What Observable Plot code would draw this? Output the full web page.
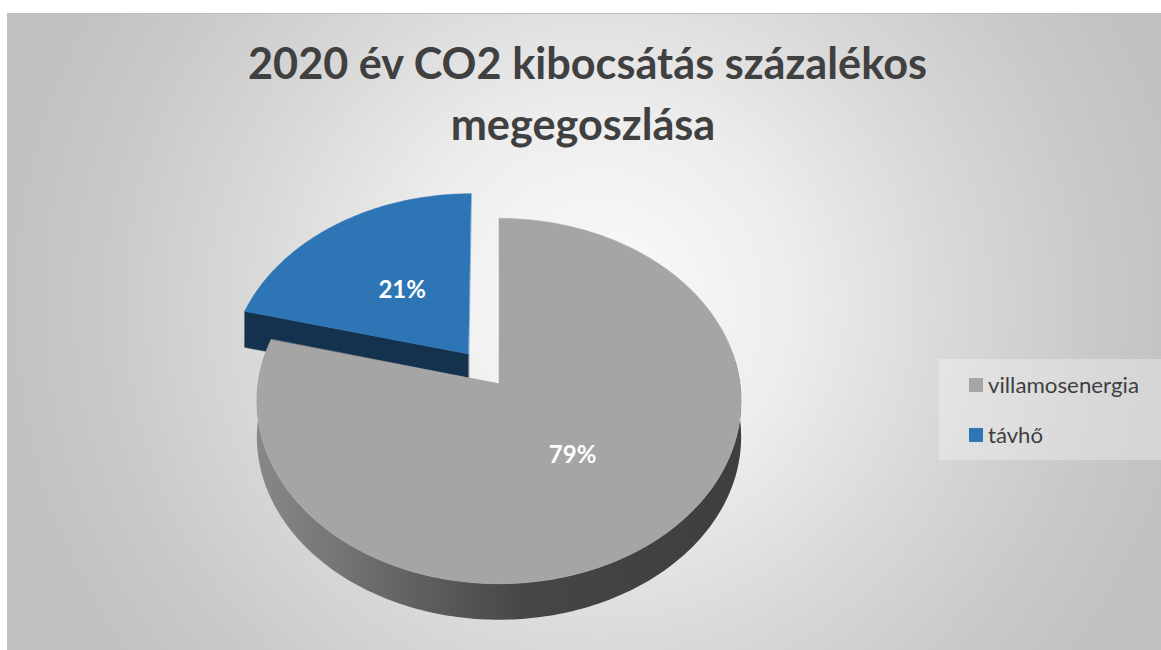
<!DOCTYPE html>
<html>
<head>
<meta charset="utf-8">
<script src="https://cdn.jsdelivr.net/npm/d3@7"></script>
<script src="https://cdn.jsdelivr.net/npm/@observablehq/plot@0.6"></script>
<style>
html, body { margin: 0; padding: 0; background: #ffffff; }
#wrap { position: relative; width: 1161px; height: 650px; overflow: hidden; font-family: Lato, "Open Sans", sans-serif; }
#bg { position: absolute; left: 7px; top: 13px; width: 1154px; height: 637px; box-sizing: border-box;
  border-top: 1px solid #bdbdbd;
  background: radial-gradient(circle 620px at 593px 290px, #fcfcfc 0%, #f5f5f5 14%, #ededed 31%, #d9d9d9 56%, #c9c9c9 80%, #c1c1c1 97%); }
#chart, #overlay { position: absolute; left: 0; top: 0; }
</style>
</head>
<body>
<div id="wrap"><div id="bg"></div></div>
<script>
// ---- data ----
const title = ["2020 év CO2 kibocsátás százalékos", "megegoszlása"];
const categories = ["villamosenergia", "távhő"];
const values = [79, 21];
const colors = ["#a5a5a5", "#2e75b6"];
const explode = [0, 0.21];
const labels = values.map(v => v + "%");

// ---- 3D pie geometry (perspective ellipse) ----
const W = 1161, H = 650;
const cx = 498.5, cy = 383, RX = 241, RY = 181, P = 0.096, T = 36;
function proj(u, v) { const k = 1 / (1 - P * v); return [cx + RX * u * k, cy + RY * v * k]; }
const arcs = d3.pie().sort(null).value(d => d)(values);
const deg = Math.PI / 180;

const parts = arcs.map((a, i) => {
  const mid = (a.startAngle + a.endAngle) / 2;
  const ou = explode[i] * Math.sin(mid), ov = -explode[i] * Math.cos(mid);
  const pt = (th, r = 1) => proj(ou + r * Math.sin(th), ov - r * Math.cos(th));
  const n = Math.max(2, Math.ceil((a.endAngle - a.startAngle) / deg));
  const top = [proj(ou, ov)];
  for (let j = 0; j <= n; j++) top.push(pt(a.startAngle + (a.endAngle - a.startAngle) * j / n));
  let wall = null;
  const w0 = Math.max(a.startAngle, 80 * deg), w1 = Math.min(a.endAngle, 280 * deg);
  if (w1 > w0) {
    const upper = [], m = Math.ceil((w1 - w0) / deg);
    for (let j = 0; j <= m; j++) upper.push(pt(w0 + (w1 - w0) * j / m));
    wall = upper.concat(upper.slice().reverse().map(([x, y]) => [x, y + T]));
  }
  const faces = [];
  const c = proj(ou, ov);
  if (-Math.sin(a.startAngle) > 0.01) {
    const e = pt(a.startAngle);
    faces.push([c, e, [e[0], e[1] + T], [c[0], c[1] + T]]);
  }
  if (Math.sin(a.endAngle) > 0.01) {
    const e = pt(a.endAngle);
    faces.push([c, e, [e[0], e[1] + T], [c[0], c[1] + T]]);
  }
  const label = pt(mid, 0.48);
  return { i, depth: -Math.cos(mid), top, wall, faces, label };
});

const toRows = (pts, key) => pts.map(([x, y]) => ({ x, y, key }));
const marks = [];
parts.slice().sort((a, b) => a.depth - b.depth).forEach(p => {
  const base = colors[p.i];
  const dark = d3.color(base).darker(2.4).formatHex();
  p.faces.forEach((f, k) => marks.push(Plot.line(toRows(f, "f" + k), { x: "x", y: "y", curve: "linear-closed", fill: dark, stroke: dark, strokeWidth: 0.5 })));
  if (p.wall) marks.push(Plot.line(toRows(p.wall, "w"), { x: "x", y: "y", curve: "linear-closed", fill: "url(#wallGrad" + p.i + ")", stroke: "none" }));
  marks.push(Plot.line(toRows(p.top, "t"), { x: "x", y: "y", curve: "linear-closed", fill: base, stroke: base, strokeWidth: 0.5 }));
});
marks.push(Plot.text(parts.map(p => ({ x: p.label[0], y: p.label[1] + 1, t: labels[p.i] })), {
  x: "x", y: "y", text: "t", fill: "white", fontWeight: "bold", fontSize: 24, fontFamily: "Lato, sans-serif"
}));

const chart = Plot.plot({
  width: W, height: H, margin: 0,
  x: { domain: [0, W], range: [0, W], axis: null },
  y: { domain: [0, H], range: [0, H], axis: null },
  style: { background: "transparent", overflow: "visible" },
  marks
});
chart.id = "chart";
const defs = d3.select(chart).insert("defs", ":first-child");
parts.forEach(p => {
  const g = defs.append("linearGradient").attr("id", "wallGrad" + p.i)
    .attr("gradientUnits", "userSpaceOnUse").attr("x1", cx - RX - 2).attr("x2", cx + RX + 2).attr("y1", 0).attr("y2", 0);
  [[0, "#888888"], [0.15, "#777777"], [0.38, "#5a5a5a"], [0.55, "#464646"], [1, "#3e3e3e"]]
    .forEach(([o, c]) => g.append("stop").attr("offset", o).attr("stop-color", c));
});
document.getElementById("wrap").appendChild(chart);

// ---- title & legend (overlay) ----
const ov = d3.select("#wrap").append("svg").attr("id", "overlay").attr("width", W).attr("height", H);
const t1 = ov.append("text").attr("x", 587.5).attr("y", 79).attr("text-anchor", "middle")
  .attr("font-family", "Lato, sans-serif").attr("font-weight", 700).attr("fill", "#404040")
  .attr("font-size", 44).text(title[0]);
const nat1 = t1.node().getComputedTextLength();
if (nat1 > 679) t1.attr("textLength", 679).attr("lengthAdjust", "spacingAndGlyphs");
const t2 = ov.append("text").attr("x", 583).attr("y", 140).attr("text-anchor", "middle")
  .attr("font-family", "Lato, sans-serif").attr("font-weight", 700).attr("fill", "#404040")
  .attr("font-size", 44).text(title[1]);
const nat2 = t2.node().getComputedTextLength();
t2.attr("textLength", nat2 * Math.min(1, 679 / nat1)).attr("lengthAdjust", "spacingAndGlyphs");

ov.append("rect").attr("x", 939).attr("y", 359).attr("width", 230).attr("height", 101).attr("fill", "rgba(255,255,255,0.3)");
const legendY = [385, 435];
const legendW = [151, 55];
categories.forEach((c, i) => {
  ov.append("rect").attr("x", 969).attr("y", legendY[i] - 7).attr("width", 14).attr("height", 14).attr("fill", colors[i]);
  ov.append("text").attr("x", 988).attr("y", legendY[i] + 8)
    .attr("font-family", "Lato, sans-serif").attr("fill", "#404040").attr("font-size", 22).text(c)
    .attr("textLength", legendW[i]).attr("lengthAdjust", "spacingAndGlyphs");
});
</script>
</body>
</html>
